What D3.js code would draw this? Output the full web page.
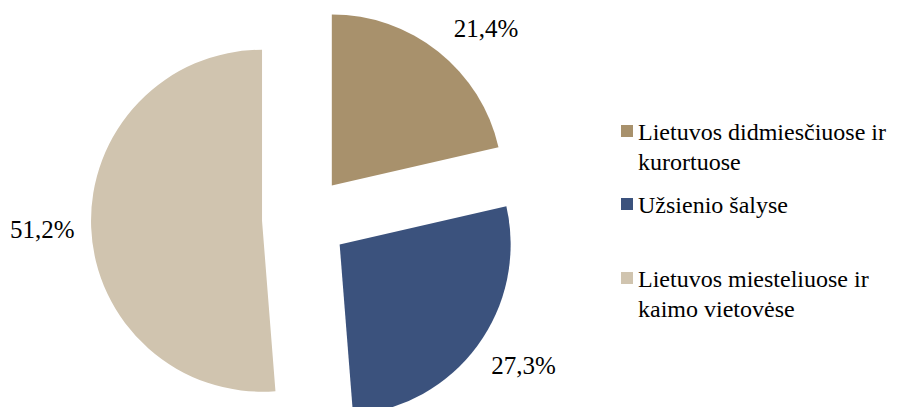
<!DOCTYPE html>
<html>
<head>
<meta charset="utf-8">
<script src="https://cdn.jsdelivr.net/npm/d3@7"></script>
<style>
  body { margin: 0; background: #fff; }
</style>
</head>
<body>
<svg id="chart"></svg>
<script>
// data
var categories = ["Lietuvos didmiesčiuose ir kurortuose", "Užsienio šalyse", "Lietuvos miesteliuose ir kaimo vietovėse"]
var values = [21.4, 27.3, 51.2]
var legendLines = [["Lietuvos didmiesčiuose ir", "kurortuose"], ["Užsienio šalyse"], ["Lietuvos miesteliuose ir", "kaimo vietovėse"]]
var colors = ["#A8916C", "#3B527D", "#D0C4AF"]

var width = 915
var height = 407
var cx = 305, cy = 219
var radius = 171
var explode = 43
var font = "'Liberation Serif', 'DejaVu Serif', serif"

var svg = d3.select("#chart")
    .attr("width", width)
    .attr("height", height)

var pie = d3.pie().sort(null).value(d => d)
var arcs = pie(values)

var arc = d3.arc().innerRadius(0).outerRadius(radius)

// direction of a slice mid angle (0 = up, clockwise)
function dir(a) { return [Math.sin(a), -Math.cos(a)] }

var g = svg.append("g").attr("transform", "translate(" + cx + "," + cy + ")")

var slices = g.selectAll("g.slice")
    .data(arcs)
    .enter()
    .append("g")
    .attr("class", "slice")
    .attr("transform", d => {
      var v = dir((d.startAngle + d.endAngle) / 2)
      return "translate(" + v[0] * explode + "," + v[1] * explode + ")"
    })

slices.append("path")
    .attr("d", arc)
    .attr("fill", (d, i) => colors[i])

// data labels (best-fit nudges, degrees)
var labelNudge = [6, -3, 0]
var labelR = 220
slices.append("text")
    .attr("x", (d, i) => dir((d.startAngle + d.endAngle) / 2 + labelNudge[i] * Math.PI / 180)[0] * labelR)
    .attr("y", (d, i) => dir((d.startAngle + d.endAngle) / 2 + labelNudge[i] * Math.PI / 180)[1] * labelR)
    .attr("text-anchor", "middle")
    .attr("dy", "0.35em")
    .attr("font-family", font)
    .attr("font-size", 25)
    .attr("fill", "#000")
    .text(d => d3.format(".1f")(d.value).replace(".", ",") + "%")

// legend
var legendTop = [140, 213, 287]
var legend = svg.append("g")
    .selectAll("g")
    .data(legendLines)
    .enter()
    .append("g")
    .attr("transform", (d, i) => "translate(621," + legendTop[i] + ")")

legend.append("rect")
    .attr("x", 0)
    .attr("y", -15)
    .attr("width", 12)
    .attr("height", 12)
    .attr("fill", (d, i) => colors[i])

legend.append("text")
    .attr("x", 17)
    .attr("font-family", font)
    .attr("font-size", 24)
    .attr("fill", "#000")
    .selectAll("tspan")
    .data(d => d)
    .enter()
    .append("tspan")
    .attr("x", 17)
    .attr("dy", (d, i) => i === 0 ? 0 : 30)
    .text(d => d)
</script>
</body>
</html>
